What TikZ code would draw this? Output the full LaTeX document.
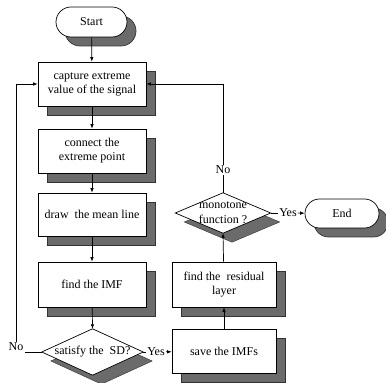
\documentclass[tikz,border=0pt]{standalone}
\usepackage{fontspec}
\setmainfont{Liberation Serif}
\usetikzlibrary{arrows.meta,calc,shapes.misc,shadows}
\begin{document}
\begin{tikzpicture}[x=1pt,y=1pt,
  shd/.style={drop shadow={shadow xshift=9pt,shadow yshift=-9pt,fill=black!58,draw=black!80,opacity=1}},
  txt/.style={font=\fontsize{12}{14}\selectfont, align=center},
  box/.style={txt, draw, fill=white, line width=0.7pt, minimum width=108pt, minimum height=44pt, inner sep=1pt, shd},
  rbox/.style={box, minimum width=104pt},
  term/.style={txt, draw, fill=white, line width=0.7pt, rounded rectangle, minimum height=30pt, inner sep=1pt, shd},
  dia/.style={txt, inner sep=0pt},
  dshape/.style={draw, fill=white, line width=0.7pt, shd},
  lbl/.style={txt, inner sep=1pt},
  line/.style={line width=0.7pt},
  arr/.style={line, -{Latex[length=4.5pt,width=3.5pt]}}
]
\useasboundingbox (0,0) rectangle (386,383);

% nodes
\node[term, minimum width=73pt] (start) at (91.5,361) {Start};
\node[box] (b1) at (92,299) {capture extreme\\value of the signal};
\node[box] (b2) at (92,232) {connect the\\extreme point};
\node[box, minimum height=43pt] (b3) at (92,168.5) {draw\ \ the mean line};
\node[box, minimum height=45pt] (b4) at (92,98.5) {find the IMF};

\node[dia, minimum width=101pt, minimum height=46pt] (d1) at (92.5,31) {};
\draw[dshape] (d1.north) -- (d1.east) -- (d1.south) -- (d1.west) -- cycle;
\node[txt] at (d1.center) {satisfy the\ \ SD?};

\node[rbox] (save) at (224,32) {save the IMFs};
\node[rbox, minimum height=45pt] (res) at (224,98.5) {find the\ \ residual\\layer};

\node[dia, minimum width=95pt, minimum height=40pt] (mono) at (223,170) {};
\draw[dshape] (mono.north) -- (mono.east) -- (mono.south) -- (mono.west) -- cycle;
\node[txt, font=\fontsize{12}{15}\selectfont] at (mono.center) {monotone\\function ?};

\node[term, minimum width=76pt, minimum height=29pt] (end) at (342,169.5) {End};

\node[lbl] (no1) at (16,36) {No};
\node[lbl] (yes1) at (156,31) {Yes};
\node[lbl] (no2) at (223,213) {No};
\node[lbl] (yes2) at (288,170) {Yes};

% connectors
\draw[arr] (start) -- (b1);
\draw[arr] (b1) -- (b2);
\draw[arr] (b2) -- (b3);
\draw[arr] (b3) -- (b4);
\draw[arr] (b4) -- (d1.north);
\draw[line] (d1.west) -- (no1.east |- d1.west);
\draw[arr] (no1) |- (b1.west);
\draw[line] (d1.east) -- (yes1.west);
\draw[arr] (yes1) -- (save);
\draw[arr] (save) -- (res);
\draw[arr] (res) -- (mono.south);
\draw[line] (mono.north) -- (no2);
\draw[arr] (no2) |- (b1.east);
\draw[line] (mono.east) -- (yes2.west);
\draw[arr] (yes2) -- (end);
\end{tikzpicture}
\end{document}
